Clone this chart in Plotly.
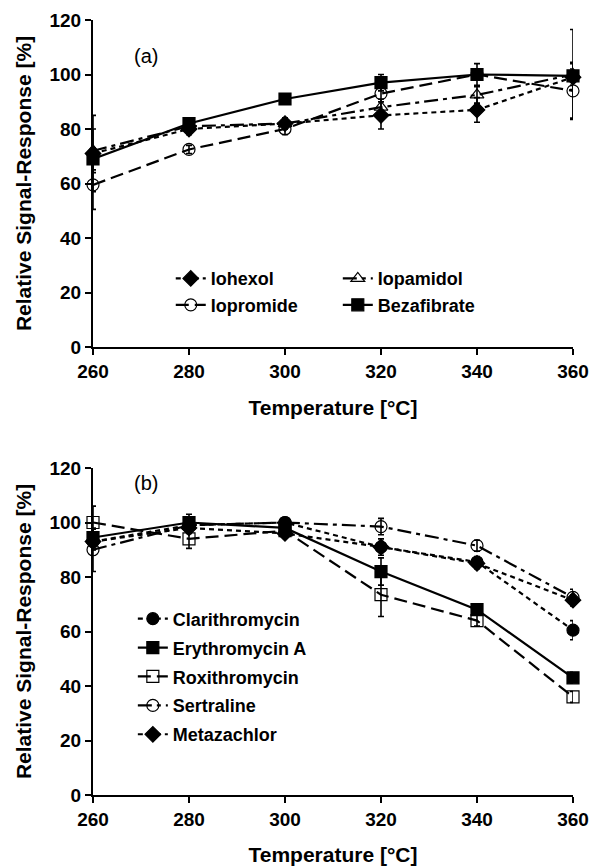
import plotly.graph_objects as go

temps = [260, 280, 300, 320, 340, 360]

# Panel (a)
iohexol = [71, 80, 82, 85, 87, 99]
iohexol_err = [14, 2, 2, 5, 4.5, 3]
iopamidol = [72, 81, 82, 88, 92.5, 100]
iopamidol_err = [8, 3, 2, 3, 3, 16.5]
iopromide = [59.5, 72.5, 80, 93, 100, 94]
iopromide_err = [9, 1.5, 2, 3, 2, 10]
bezafibrate = [69, 82, 91, 97, 100, 99.5]
bezafibrate_err = [4, 2, 1, 3, 4, 5]

# Panel (b)
clarithro = [93, 99, 100, 91, 85.5, 60.5]
clarithro_err = [3, 2, 1.5, 3, 2, 3.5]
erythro = [94.5, 100, 98, 82, 68, 43]
erythro_err = [3, 3, 1.5, 5, 2, 2]
roxithro = [100, 94, 97, 73.5, 64, 36]
roxithro_err = [6, 3.5, 1.5, 8, 2, 2]
sertraline = [90, 99, 100, 98.5, 91.5, 72.5]
sertraline_err = [8, 2, 1.5, 3, 2, 3]
metazachlor = [93, 98, 96, 91, 85, 71.5]
metazachlor_err = [3, 2, 1.5, 2, 2, 2]

y_ticks = [0, 20, 40, 60, 80, 100, 120]
x_ticks = [260, 280, 300, 320, 340, 360]

FONT = "Arial, 'Liberation Sans', sans-serif"

fig = go.Figure()

def add(y, err, name, symbol, dash, xa, ya, legend, rank):
    fig.add_trace(go.Scatter(
        x=temps, y=y, name=name, mode="lines+markers",
        line=dict(color="black", width=2.2, dash=dash),
        marker=dict(symbol=symbol, size=12, color="black",
                    line=dict(color="black", width=1.2)),
        error_y=dict(type="data", array=err, visible=True, color="black", thickness=1.6, width=3),
        xaxis=xa, yaxis=ya, legend=legend, legendrank=rank, legendgroup=name, cliponaxis=False,
    ))

DOT = "5px,4px"
LDASH = "13px,6px"
DASHDOT = "14px,5px,4px,5px"

# panel a
add(iohexol, iohexol_err, "Iohexol", "diamond", DOT, "x", "y", "legend", 1)
add(iopromide, iopromide_err, "Iopromide", "circle-open", LDASH, "x", "y", "legend", 2)
add(iopamidol, iopamidol_err, "Iopamidol", "triangle-up-open", DASHDOT, "x", "y", "legend2", 3)
add(bezafibrate, bezafibrate_err, "Bezafibrate", "square", "solid", "x", "y", "legend2", 4)

# panel b
add(clarithro, clarithro_err, "Clarithromycin", "circle", DOT, "x2", "y2", "legend3", 1)
add(erythro, erythro_err, "Erythromycin A", "square", "solid", "x2", "y2", "legend3", 2)
add(roxithro, roxithro_err, "Roxithromycin", "square-open", LDASH, "x2", "y2", "legend3", 3)
add(sertraline, sertraline_err, "Sertraline", "circle-open", DASHDOT, "x2", "y2", "legend3", 4)
add(metazachlor, metazachlor_err, "Metazachlor", "diamond", DOT, "x2", "y2", "legend3", 5)

axis_common = dict(
    showline=True, linecolor="black", linewidth=2, mirror=False,
    ticks="outside", tickcolor="black", tickwidth=2, ticklen=6,
    showgrid=False, zeroline=False, automargin=False,
    tickfont=dict(family=FONT, size=19, color="black", weight="bold"),
)

xa = dict(axis_common, range=[260, 360], tickvals=x_ticks,
          title=dict(text="<b>Temperature [°C]</b>", font=dict(family=FONT, size=21, color="black"), standoff=20))
ya = dict(axis_common, range=[0, 120], tickvals=y_ticks,
          title=dict(text="<b>Relative Signal-Response [%]</b>", font=dict(family=FONT, size=21, color="black"), standoff=12))

top_dom = [(795 - 347) / 775, 1.0]
bot_dom = [0.0, (795 - 468) / 775]

leg_font = dict(family=FONT, size=18, color="black", weight="bold")

fig.update_layout(
    width=593, height=866,
    margin=dict(l=93, r=20, t=20, b=71),
    plot_bgcolor="white", paper_bgcolor="white",
    xaxis=dict(xa, domain=[0, 1], anchor="y"),
    yaxis=dict(ya, domain=top_dom, anchor="x"),
    xaxis2=dict(xa, domain=[0, 1], anchor="y2"),
    yaxis2=dict(ya, domain=bot_dom, anchor="x2"),
    legend=dict(x=0.162, y=0.690, xanchor="left", yanchor="top", bgcolor="rgba(0,0,0,0)",
                font=leg_font, tracegroupgap=0),
    legend2=dict(x=0.51, y=0.690, xanchor="left", yanchor="top", bgcolor="rgba(0,0,0,0)",
                 font=leg_font, tracegroupgap=0),
    legend3=dict(x=0.083, y=0.251, xanchor="left", yanchor="top", bgcolor="rgba(0,0,0,0)",
                 font=leg_font, tracegroupgap=2.5),
)

def px_to_paper(px, py):
    return (px - 93) / 480, (795 - py) / 775

ax, ay = px_to_paper(132, 43)
bx, by = px_to_paper(132, 483)
fig.add_annotation(text="(a)", x=ax, y=ay, xref="paper", yref="paper", showarrow=False,
                   font=dict(family=FONT, size=20, color="black"))
fig.add_annotation(text="(b)", x=bx, y=by, xref="paper", yref="paper", showarrow=False,
                   font=dict(family=FONT, size=20, color="black"))

fig.write_html("out.html")
